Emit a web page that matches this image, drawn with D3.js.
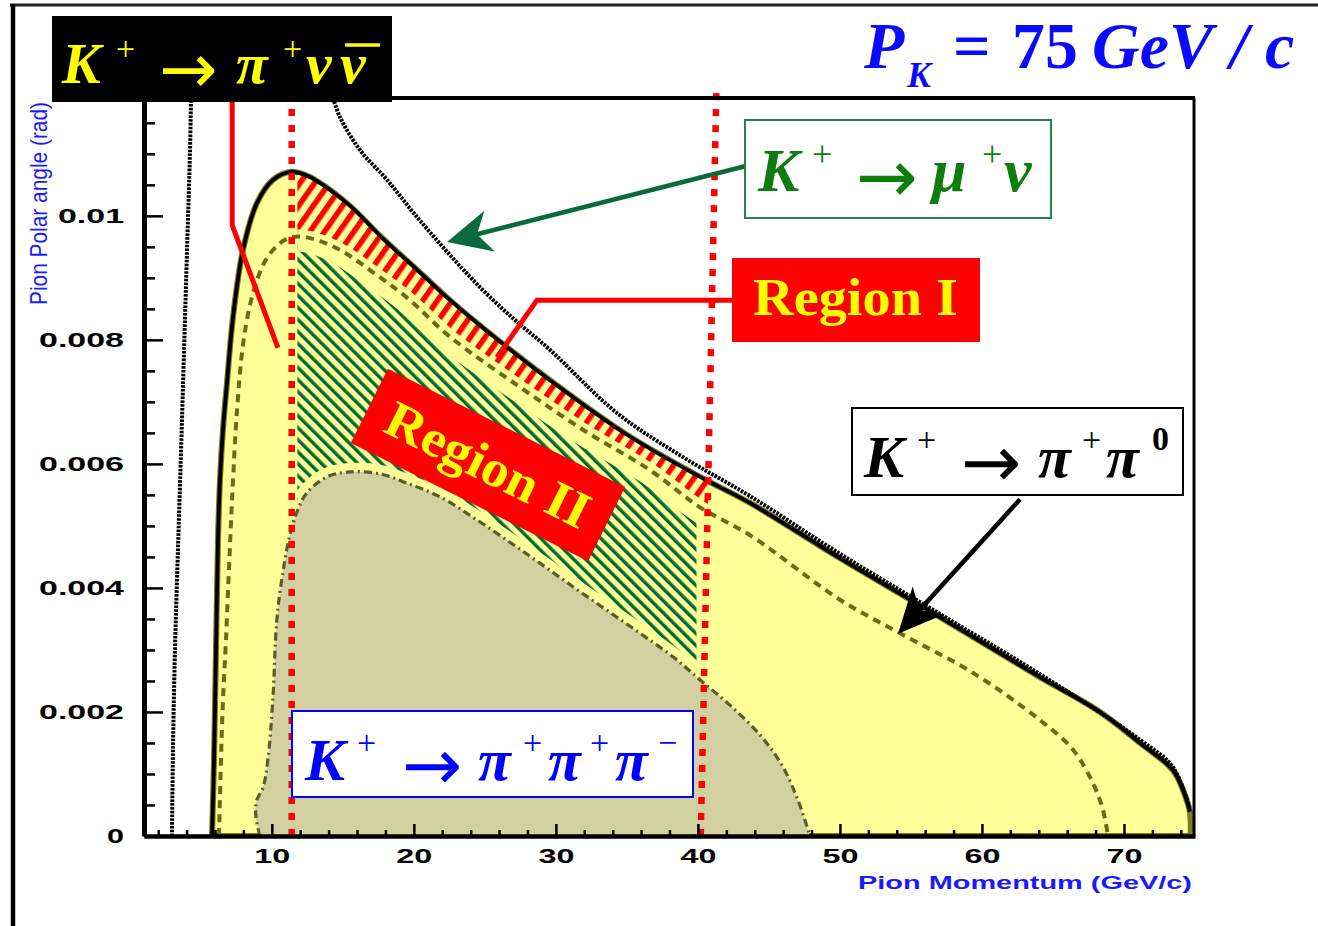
<!DOCTYPE html>
<html>
<head>
<meta charset="utf-8">
<script src="https://cdn.jsdelivr.net/npm/d3@7"></script>
<style>
  html, body { margin: 0; padding: 0; background: #ffffff; }
  svg { display: block; }
</style>
</head>
<body>
<svg id="chart" width="1318" height="926"></svg>
<script>
// ---- Kinematic envelopes: pion momentum (GeV/c) vs polar angle (rad), P_K = 75 GeV/c ----

// K+ -> pi+ pi0 : outer kinematic boundary
const pipi0OuterP = [5.79, 5.93, 6.07, 6.21, 6.35, 6.56, 6.84, 7.27, 7.97, 8.96, 10.08, 11.35, 12.33, 13.18,
  15.50, 17.83, 20.22, 22.54, 24.87, 29.58, 35.0, 40.15, 43.67, 50.0, 57.04, 64.08, 68.31, 71.13, 73.45, 74.29, 74.64, 74.7];
const pipi0OuterTheta = [0, 0.00123, 0.00300, 0.00477, 0.00574, 0.00655, 0.00730, 0.00837, 0.00945, 0.01021, 0.01058, 0.01071, 0.01066, 0.01056,
  0.01016, 0.00963, 0.00913, 0.00864, 0.00819, 0.00735, 0.00647, 0.00579, 0.00537, 0.00448, 0.00353, 0.00256, 0.00200, 0.00150, 0.00106, 0.00066, 0.00039, 0];

// K+ -> pi+ pi0 : inner (dashed) contour
const pipi0InnerP = [6.28, 6.42, 6.56, 6.77, 6.98, 7.20, 7.55, 7.97, 8.46, 9.03, 9.66, 10.58, 11.49, 12.69, 14.80,
  17.12, 19.52, 22.54, 27.27, 31.91, 36.62, 40.15, 43.67, 50.0, 54.23, 59.37, 64.08, 66.41, 67.82, 68.52, 68.87];
const pipi0InnerTheta = [0, 0.00123, 0.00219, 0.00316, 0.00429, 0.00542, 0.00687, 0.00792, 0.00856, 0.00901, 0.00932, 0.00956, 0.00966, 0.00964, 0.00945,
  0.00909, 0.00868, 0.00805, 0.00727, 0.00655, 0.00590, 0.00530, 0.00485, 0.00381, 0.00327, 0.00263, 0.00187, 0.00139, 0.00085, 0.00042, 0];

// K+ -> pi+ pi+ pi- : region boundary (dash-dot)
const pipipiP = [9.15, 8.87, 8.94, 9.37, 9.72, 10.07, 10.35, 10.77, 11.27, 11.83, 12.46, 13.87, 15.49, 17.61, 19.51,
  21.83, 24.15, 26.55, 28.87, 31.20, 33.59, 35.92, 38.24, 40.14, 42.25, 44.37, 45.92, 47.04, 47.89];
const pipipiTheta = [0, 0.00034, 0.00058, 0.00077, 0.00123, 0.00219, 0.00348, 0.00424, 0.00485, 0.00526, 0.00553, 0.00579, 0.00587, 0.00584, 0.00569,
  0.00547, 0.00514, 0.00477, 0.00440, 0.00402, 0.00364, 0.00327, 0.00289, 0.00252, 0.00211, 0.00163, 0.00114, 0.00058, 0];

// K+ -> mu+ nu : low-momentum branch
const munuLowP = [2.97, 3.04, 3.18, 3.39, 3.61, 3.82, 4.03, 4.24, 4.31];
const munuLowTheta = [0, 0.00139, 0.00300, 0.00461, 0.00622, 0.00784, 0.00945, 0.01106, 0.0119];

// K+ -> mu+ nu : high-momentum branch
const munuHighP = [14.31, 14.80, 16.21, 18.11, 20.22, 22.54, 24.87, 27.27, 29.58, 34.30, 38.95, 43.67, 50.0, 57.04, 64.08, 71.13, 73.45, 74.64];
const munuHighTheta = [0.0119, 0.01159, 0.01106, 0.01058, 0.00998, 0.00937, 0.00880, 0.00829, 0.00784, 0.00682, 0.00611, 0.00548, 0.00455, 0.00358, 0.00261, 0.00155, 0.00111, 0.00042];

// Momentum cuts (vertical dotted lines): [p at theta=0, p at top]
const cutLowP = [11.4, 11.4];
const cutHighP = [40.2, 41.3];

// Signal regions in momentum
const region1P = [11.8, 40.7];
const region2P = [11.8, 39.9];

// Axis ticks
const xMajorTicks = [10, 20, 30, 40, 50, 60, 70];
const xMinorTicks = d3.range(2, 75, 2).filter(v => v % 10 !== 0);
const yMajorTicks = [0, 0.002, 0.004, 0.006, 0.008, 0.01];
const yMinorTicks = d3.range(1, 24).map(i => +(i * 0.0005).toFixed(4)).filter(v => Math.round(v * 10000) % 20 !== 0);

// ---- drawing ----
const SERIF = "'Liberation Serif','Times New Roman',serif";
const SANS = "'Liberation Sans',Arial,sans-serif";
const YELLOW_FILL = "#ffff99";
const GREY_FILL = "#d2d0a0";
const OLIVE = "#6b6b14";
const OLIVE_DD = "#5c5c28";
const RED = "#ff0000";
const HATCH_GREEN = "#006a35";
const BLUE = "#0a0aff";

const svg = d3.select("#chart");
svg.append("rect").attr("width", 1318).attr("height", 926).attr("fill", "#ffffff");

const x = d3.scaleLinear().domain([1, 75]).range([144, 1195]);
const y = d3.scaleLinear().domain([0, 0.0119]).range([836, 98]);

const pts = (P, T) => P.map((p, i) => [p, T[i]]);
const outer = pts(pipi0OuterP, pipi0OuterTheta);
const inner = pts(pipi0InnerP, pipi0InnerTheta);
const pipipi = pts(pipipiP, pipipiTheta);
const munuLow = pts(munuLowP, munuLowTheta);
const munuHigh = pts(munuHighP, munuHighTheta);

const line = d3.line().x(d => x(d[0])).y(d => y(d[1])).curve(d3.curveCatmullRom.alpha(0.5));
const between = (a, b) => line(a) + line(b.slice().reverse()).replace(/^M/, "L") + "Z";

const defs = svg.append("defs");
defs.append("clipPath").attr("id", "plotClip").append("rect")
  .attr("x", x(1)).attr("y", y(0.0119)).attr("width", x(75) - x(1)).attr("height", y(0) - y(0.0119));
defs.append("clipPath").attr("id", "r1Clip").append("rect")
  .attr("x", x(region1P[0])).attr("y", 0).attr("width", x(region1P[1]) - x(region1P[0])).attr("height", 926);
defs.append("clipPath").attr("id", "r2Clip").append("rect")
  .attr("x", x(region2P[0])).attr("y", 0).attr("width", x(region2P[1]) - x(region2P[0])).attr("height", 926);

const pr = defs.append("pattern").attr("id", "hatchRed").attr("patternUnits", "userSpaceOnUse")
  .attr("width", 12).attr("height", 12).attr("patternTransform", "rotate(35)");
pr.append("rect").attr("width", 12).attr("height", 12).attr("fill", YELLOW_FILL);
pr.append("rect").attr("width", 5.5).attr("height", 12).attr("fill", RED);

const pg = defs.append("pattern").attr("id", "hatchGreen").attr("patternUnits", "userSpaceOnUse")
  .attr("width", 8.5).attr("height", 8.5).attr("patternTransform", "rotate(-45)");
pg.append("rect").attr("width", 8.5).attr("height", 8.5).attr("fill", YELLOW_FILL);
pg.append("rect").attr("width", 3.4).attr("height", 8.5).attr("fill", HATCH_GREEN);

const plot = svg.append("g").attr("clip-path", "url(#plotClip)");

// allowed region of K+ -> pi+ pi0
plot.append("path").attr("d", line(outer) + "Z").attr("fill", YELLOW_FILL)
  .attr("stroke", "#7d7d1e").attr("stroke-width", 6);

// Region II (between inner pi pi0 contour and the 3-pion boundary)
plot.append("g").attr("clip-path", "url(#r2Clip)")
  .append("path").attr("d", between(inner, pipipi)).attr("fill", "url(#hatchGreen)");

// light margins inside Region II along its contours
const halo2 = plot.append("g").attr("clip-path", "url(#r1Clip)");
halo2.append("path").attr("d", line(inner)).attr("fill", "none").attr("stroke", YELLOW_FILL).attr("stroke-width", 30);
halo2.append("path").attr("d", line(pipipi)).attr("fill", "none").attr("stroke", YELLOW_FILL).attr("stroke-width", 18);

// Region I (between outer and inner pi pi0 contours)
plot.append("g").attr("clip-path", "url(#r1Clip)")
  .append("path").attr("d", between(outer, inner)).attr("fill", "url(#hatchRed)");
plot.append("g").attr("clip-path", "url(#r1Clip)")
  .append("path").attr("d", line(inner)).attr("fill", "none").attr("stroke", YELLOW_FILL).attr("stroke-width", 14);

// K+ -> pi+ pi+ pi- region
plot.append("path").attr("d", line(pipipi) + "Z").attr("fill", GREY_FILL);

// contour lines
plot.append("path").attr("d", line(inner)).attr("fill", "none")
  .attr("stroke", OLIVE).attr("stroke-width", 4).attr("stroke-dasharray", "8 6");
plot.append("path").attr("d", line(pipipi)).attr("fill", "none")
  .attr("stroke", OLIVE_DD).attr("stroke-width", 3.2).attr("stroke-dasharray", "8 4 2 4");
plot.append("path").attr("d", line(outer.slice(0, -1))).attr("fill", "none")
  .attr("stroke", "#000").attr("stroke-width", 3.8);
[munuLow, munuHigh].forEach(br => {
  plot.append("path").attr("d", line(br)).attr("fill", "none")
    .attr("stroke", "#000").attr("stroke-width", 4).attr("stroke-dasharray", "2.6 1.2");
});

// momentum cut lines
[cutLowP, cutHighP].forEach(c => {
  svg.append("line")
    .attr("x1", x(c[0])).attr("y1", y(0))
    .attr("x2", x(c[1])).attr("y2", y(0.012))
    .attr("stroke", RED).attr("stroke-width", 6.5).attr("stroke-dasharray", "7 9");
});

// ---- axes ----
const tickLen = s => [...s].reduce((a, c) => a + (c === "." ? 11 : 19), 0) - 2;
const styleTicks = (g, anchor) => {
  g.selectAll("text")
    .attr("font-family", SANS).attr("font-weight", "bold").attr("font-size", 21)
    .attr("fill", "#000").attr("text-anchor", anchor)
    .attr("textLength", function () { return tickLen(this.textContent); })
    .attr("lengthAdjust", "spacingAndGlyphs");
};

const gxMinor = svg.append("g").attr("transform", `translate(0,${y(0)})`)
  .call(d3.axisBottom(x).tickValues(xMinorTicks).tickSize(-6).tickFormat(""));
gxMinor.select(".domain").remove();
gxMinor.selectAll("line").attr("stroke", "#000").attr("stroke-width", 2.5);

const gx = svg.append("g").attr("transform", `translate(0,${y(0)})`)
  .call(d3.axisBottom(x).tickValues(xMajorTicks).tickSizeInner(-12).tickSizeOuter(0).tickPadding(12).tickFormat(d3.format("d")));
gx.select(".domain").attr("stroke", "#000").attr("stroke-width", 4.5);
gx.selectAll("line").attr("stroke", "#000").attr("stroke-width", 2.5);
styleTicks(gx, "middle");

const gyMinor = svg.append("g").attr("transform", `translate(${x(1)},0)`)
  .call(d3.axisLeft(y).tickValues(yMinorTicks).tickSize(-11).tickFormat(""));
gyMinor.select(".domain").remove();
gyMinor.selectAll("line").attr("stroke", "#000").attr("stroke-width", 2.5);

const gy = svg.append("g").attr("transform", `translate(${x(1)},0)`)
  .call(d3.axisLeft(y).tickValues(yMajorTicks).tickSizeInner(-19).tickSizeOuter(0).tickPadding(20)
    .tickFormat(d => d === 0 ? "0" : String(+d.toFixed(3))));
gy.select(".domain").attr("stroke", "#000").attr("stroke-width", 5);
gy.selectAll("line").attr("stroke", "#000").attr("stroke-width", 2.5);
styleTicks(gy, "end");

// plot frame (top and right)
svg.append("line").attr("x1", x(1)).attr("x2", x(75)).attr("y1", y(0.0119)).attr("y2", y(0.0119))
  .attr("stroke", "#000").attr("stroke-width", 4);
svg.append("line").attr("x1", x(75) - 1).attr("x2", x(75) - 1).attr("y1", y(0.0119)).attr("y2", y(0))
  .attr("stroke", "#000").attr("stroke-width", 3);

// axis titles
svg.append("text")
  .attr("transform", "translate(47,305) rotate(-90)")
  .attr("font-family", SANS).attr("font-size", 24).attr("fill", "#1a1aff")
  .attr("textLength", 203).attr("lengthAdjust", "spacingAndGlyphs")
  .text("Pion Polar angle (rad)");
svg.append("text")
  .attr("x", 858).attr("y", 889)
  .attr("font-family", SANS).attr("font-size", 18).attr("font-weight", "bold").attr("fill", "#1a1aff")
  .attr("textLength", 334).attr("lengthAdjust", "spacingAndGlyphs")
  .text("Pion Momentum (GeV/c)");

// page border
svg.append("line").attr("x1", 10).attr("x2", 1318).attr("y1", 5).attr("y2", 5).attr("stroke", "#222").attr("stroke-width", 3);
svg.append("line").attr("x1", 13).attr("x2", 13).attr("y1", 4).attr("y2", 926).attr("stroke", "#000").attr("stroke-width", 4.5);

// ---- annotations ----
const ann = svg.append("g");
const px = d => [x(d[0]), y(d[1])];

// pointer lines from the signal label and from the Region I label
const plain = d3.line();
ann.append("path").attr("d", plain([[7.21, 0.01184], [7.21, 0.00985], [10.43, 0.00787]].map(px)))
  .attr("fill", "none").attr("stroke", RED).attr("stroke-width", 5).attr("stroke-linejoin", "miter");
ann.append("path").attr("d", plain([[42.4, 0.00864], [28.67, 0.00864], [25.85, 0.00772]].map(px)))
  .attr("fill", "none").attr("stroke", RED).attr("stroke-width", 5).attr("stroke-linejoin", "miter");

function arrow(from, to, color, width, L, W, N) {
  const [sx, sy] = px(from), [tx, ty] = px(to);
  const len = Math.hypot(tx - sx, ty - sy);
  const ux = (tx - sx) / len, uy = (ty - sy) / len;
  const nx = -uy, ny = ux;
  ann.append("line").attr("x1", sx).attr("y1", sy).attr("x2", tx - ux * N).attr("y2", ty - uy * N)
    .attr("stroke", color).attr("stroke-width", width);
  ann.append("path").attr("d", plain([
    [tx, ty],
    [tx - ux * L + nx * W, ty - uy * L + ny * W],
    [tx - ux * N, ty - uy * N],
    [tx - ux * L - nx * W, ty - uy * L - ny * W]
  ]) + "Z").attr("fill", color);
}
arrow([43.31, 0.01080], [22.33, 0.00958], "#0a6a3a", 4.5, 44, 21, 31);
arrow([62.68, 0.00543], [54.09, 0.00326], "#000", 4.5, 45, 21, 32);

function mathLabel(base, size, color, pieces) {
  const t = ann.append("text").attr("y", base).attr("fill", color)
    .attr("font-family", SERIF).attr("font-size", size);
  pieces.forEach(pc => {
    const ts = t.append("tspan").attr("x", pc.x).attr("y", base + (pc.dy || 0))
      .attr("font-size", pc.size || size)
      .attr("font-style", pc.style || "italic")
      .attr("font-weight", pc.weight || "bold")
      .text(pc.t);
    if (pc.family) ts.attr("font-family", pc.family);
  });
  return t;
}
const sup = (t, xx, dy, size) => ({ t, x: xx, dy, size, style: "normal", weight: "normal" });
// long reaction arrow, sized relative to the label
const arr = (xx, size) => ({ t: "\u2192", x: xx, dy: Math.round(size * 0.17), size: Math.round(size * 1.2),
  style: "normal", weight: "normal", family: "'DejaVu Sans',sans-serif" });

// K+ -> pi+ nu nubar
ann.append("rect").attr("x", 52).attr("y", 16).attr("width", 340).attr("height", 86).attr("fill", "#000");
mathLabel(83, 58, "#ffff00", [
  { t: "K", x: 62 }, sup("+", 116, -23, 34), arr(159, 58),
  { t: "\u03c0", x: 236 }, sup("+", 283, -23, 34), { t: "\u03bd", x: 306 }, { t: "\u03bd", x: 340 }
]);
ann.append("line").attr("x1", 345).attr("x2", 380).attr("y1", 45).attr("y2", 45)
  .attr("stroke", "#ffff00").attr("stroke-width", 3.5);

// beam momentum
mathLabel(68, 66, BLUE, [
  { t: "P", x: 864 }, { t: "K", x: 907, dy: 19, size: 36 },
  { t: "=", x: 953, style: "normal" }, { t: "75", x: 1012, style: "normal" },
  { t: "GeV", x: 1092 }, { t: "/", x: 1230 }, { t: "c", x: 1265 }
]);

// K+ -> mu+ nu
ann.append("rect").attr("x", 745).attr("y", 120).attr("width", 306).attr("height", 98)
  .attr("fill", "#fff").attr("stroke", "#2e7d4f").attr("stroke-width", 2);
mathLabel(191, 62, "#0e7d0e", [
  { t: "K", x: 758 }, sup("+", 812, -25, 36), arr(856, 62),
  { t: "\u03bc", x: 932 }, sup("+", 982, -25, 36), { t: "\u03bd", x: 1004 }
]);

// Region I
ann.append("rect").attr("x", 732).attr("y", 258).attr("width", 248).attr("height", 84).attr("fill", RED);
ann.append("text").attr("x", 753).attr("y", 315)
  .attr("font-family", SERIF).attr("font-weight", "bold").attr("font-size", 52).attr("fill", "#ffff00")
  .attr("textLength", 205).attr("lengthAdjust", "spacingAndGlyphs").text("Region I");

// Region II (tilted along the envelope)
const r2 = ann.append("g").attr("transform", "translate(488,465) rotate(26.5)");
r2.append("rect").attr("x", -132.5).attr("y", -41.5).attr("width", 265).attr("height", 83).attr("fill", RED);
r2.append("text").attr("x", 0).attr("y", 17).attr("text-anchor", "middle")
  .attr("font-family", SERIF).attr("font-weight", "bold").attr("font-size", 52).attr("fill", "#ffff00")
  .attr("textLength", 222).attr("lengthAdjust", "spacingAndGlyphs").text("Region II");

// K+ -> pi+ pi0
ann.append("rect").attr("x", 852).attr("y", 408).attr("width", 331).attr("height", 87)
  .attr("fill", "#fff").attr("stroke", "#000").attr("stroke-width", 2);
mathLabel(477, 60, "#000", [
  { t: "K", x: 864 }, sup("+", 917, -26, 34), arr(961, 60),
  { t: "\u03c0", x: 1038 }, sup("+", 1082, -26, 34), { t: "\u03c0", x: 1106 },
  { t: "0", x: 1152, dy: -27, size: 34, style: "normal", weight: "bold" }
]);

// K+ -> pi+ pi+ pi-
ann.append("rect").attr("x", 292).attr("y", 711).attr("width", 401).attr("height", 86)
  .attr("fill", "#fff").attr("stroke", "#0000ff").attr("stroke-width", 2);
mathLabel(780, 60, "#0000ff", [
  { t: "K", x: 305 }, sup("+", 357, -26, 34), arr(402, 60),
  { t: "\u03c0", x: 478 }, sup("+", 523, -26, 34), { t: "\u03c0", x: 548 },
  sup("+", 590, -26, 34), { t: "\u03c0", x: 615 }, sup("\u2212", 658, -26, 34)
]);
</script>
</body>
</html>
